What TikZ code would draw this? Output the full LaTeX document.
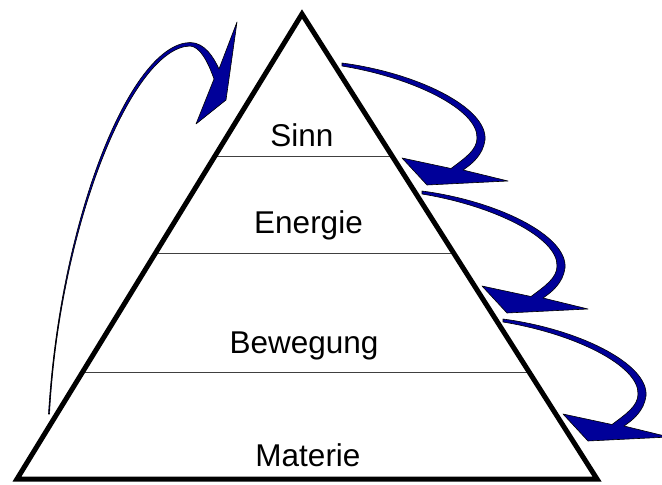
\documentclass[tikz,border=0pt]{standalone}
\usepackage{fontspec}
\setmainfont{Liberation Sans}
\usetikzlibrary{calc}
\definecolor{arrowblue}{RGB}{0,0,153}
\tikzset{
  lbl/.style={anchor=base, inner sep=0pt, font=\fontsize{31.5}{36}\selectfont},
  layerline/.style={draw=black!75, line width=1pt},
  pyramid/.style={draw=black, line width=5pt, line join=miter},
  bluearrow/.style={fill=arrowblue, draw=black, line width=0.6pt, line join=round},
  rarrow/.pic={
    \filldraw[bluearrow]
      (342,63) .. controls (418,73) and (488,108) .. (485,140)
      .. controls (483,155) and (472,164) .. (463,170)
      -- (508,181) -- (427,185) -- (402,158) -- (451,168.5)
      .. controls (465,158) and (477,150) .. (477,138)
      .. controls (478,110) and (415,78) .. (342,66) -- cycle;
  }
}
\begin{document}
\begin{tikzpicture}[x=1pt,y=-1pt]
\useasboundingbox (0,0) rectangle (662,485);
\clip (0,0) rectangle (662,485);
\fill[white] (0,0) rectangle (662,485);

\coordinate (apex) at (302,14);
\coordinate (bl) at (17,479);
\coordinate (br) at (597,479);

% layer lines
\draw[layerline] ($(apex)!0.3075!(bl)$) -- ($(apex)!0.3075!(br)$);
\draw[layerline] ($(apex)!0.5161!(bl)$) -- ($(apex)!0.5161!(br)$);
\draw[layerline] ($(apex)!0.7720!(bl)$) -- ($(apex)!0.7720!(br)$);

% pyramid
\draw[pyramid] (apex) -- (bl) -- (br) -- cycle;

% labels
\node[lbl] (sinn) at (302,146) {Sinn};
\node[lbl] (energie) at (308.5,233) {Energie};
\node[lbl] (bewegung) at (304,353) {Bewegung};
\node[lbl] (materie) at (308,466) {Materie};

% left arrow
\filldraw[bluearrow]
  (48.5,414) .. controls (60,220) and (130,44) .. (190,42.5)
  .. controls (205,42.5) and (214,58) .. (219,69)
  -- (237,22) -- (226,100) -- (196,124) -- (214,79)
  .. controls (208,62) and (200,46.5) .. (190,46)
  .. controls (133,47.5) and (60,222) .. (49.5,414) -- cycle;

% right arrows
\pic (ra1) at (0,0) {rarrow};
\pic (ra2) at (80,128) {rarrow};
\pic (ra3) at (161,256) {rarrow};
\end{tikzpicture}
\end{document}
